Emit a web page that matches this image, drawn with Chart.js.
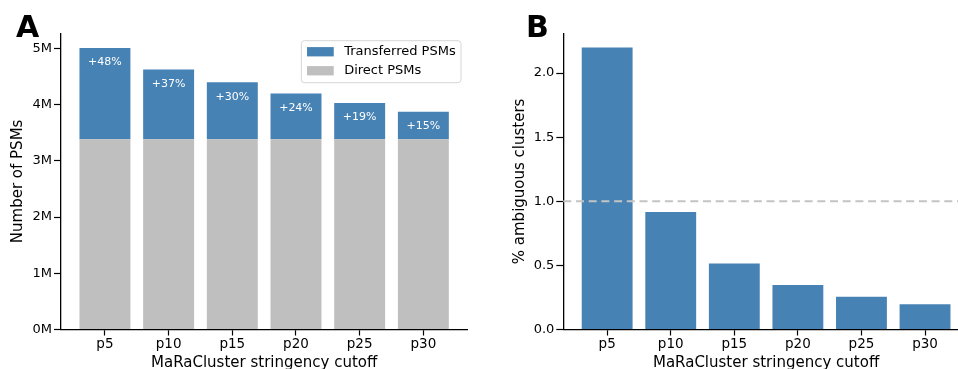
<!DOCTYPE html>
<html>
<head>
<meta charset="utf-8">
<script src="https://cdn.jsdelivr.net/npm/chart.js@4"></script>
<style>
  html, body { margin: 0; padding: 0; background: #fff; width: 958px; height: 369px; overflow: hidden; }
  .panel { position: absolute; top: 0; height: 369px; }
  #panelA { left: 0; width: 480px; }
  #panelB { left: 480px; width: 500px; }
  .letter { position: absolute; font-family: 'DejaVu Sans', sans-serif; font-weight: bold; font-size: 30px; line-height: 30px; color: #000; }
</style>
</head>
<body>
<div class="panel" id="panelA"><canvas id="chartA" width="480" height="369"></canvas></div>
<div class="panel" id="panelB"><canvas id="chartB" width="500" height="369"></canvas></div>
<div class="letter" style="left:16px; top:12px;">A</div>
<div class="letter" style="left:526px; top:12px;">B</div>
<script>
// ===== data =====
const cutoffs = ['p5', 'p10', 'p15', 'p20', 'p25', 'p30'];
// PSM counts, in millions
const directPsmsM = [3.385, 3.385, 3.385, 3.385, 3.385, 3.385];
const totalPsmsM = [5.01, 4.625, 4.40, 4.20, 4.03, 3.875];
const gainLabels = ['+48%', '+37%', '+30%', '+24%', '+19%', '+15%'];
const ambiguousPct = [2.2, 0.917, 0.514, 0.347, 0.256, 0.197];
const ambiguousThreshold = 1.0;

const BLUE = '#4682b4';
const GRAY = '#bfbfbf';
const FONT = "'DejaVu Sans', sans-serif";

Chart.defaults.font.family = FONT;
Chart.defaults.color = '#000';
Chart.defaults.animation = false;

const transferredPsmsM = totalPsmsM.map((t, i) => t - directPsmsM[i]);
const toPoints = arr => arr.map((v, i) => ({ x: i, y: v }));

// matplotlib-like x limits around bars of width 0.8
const X_MIN = -0.69;
const X_MAX = cutoffs.length - 1 + 0.69;

function xAxis() {
  return {
    type: 'linear',
    min: X_MIN,
    max: X_MAX,
    offset: false,
    afterBuildTicks: scale => { scale.ticks = cutoffs.map((c, i) => ({ value: i })); },
    ticks: {
      callback: v => cutoffs[v],
      font: { size: 13.5 },
      color: '#000',
      padding: 1,
      maxRotation: 0,
      autoSkip: false
    },
    grid: { offset: false, drawOnChartArea: false, drawTicks: true, tickLength: 6, tickColor: '#000', tickWidth: 1.2 },
    border: { display: true, color: '#000', width: 1.3 },
    title: {
      display: true,
      text: 'MaRaCluster stringency cutoff',
      font: { size: 15, lineHeight: 0.8 },
      padding: { top: 0, bottom: 0 },
      color: '#000'
    },
    afterFit: s => { s.height = 39.5; }
  };
}

function yAxis(max, step, fmt, title, titlePad, width) {
  return {
    min: 0,
    max: max,
    ticks: {
      stepSize: step,
      includeBounds: false,
      callback: fmt,
      font: { size: 13 },
      color: '#000',
      padding: 2
    },
    grid: { drawOnChartArea: false, drawTicks: true, tickLength: 7, tickColor: '#000', tickWidth: 1.2 },
    border: { display: true, color: '#000', width: 1.3 },
    title: {
      display: true,
      text: title,
      font: { size: 15 },
      padding: { top: titlePad, bottom: 0 },
      color: '#000'
    },
    afterFit: s => { s.width = width; }
  };
}

// ===== plugins =====
const gainLabelPlugin = {
  id: 'gainLabels',
  afterDatasetsDraw(chart) {
    const { ctx } = chart;
    const meta = chart.getDatasetMeta(1);
    ctx.save();
    ctx.fillStyle = '#fff';
    ctx.font = '11px ' + FONT;
    ctx.textAlign = 'center';
    ctx.textBaseline = 'middle';
    meta.data.forEach((bar, i) => {
      ctx.fillText(gainLabels[i], bar.x, bar.y + 14.5);
    });
    ctx.restore();
  }
};

const boxLegendPlugin = {
  id: 'boxLegend',
  afterDraw(chart) {
    const { ctx, chartArea } = chart;
    const items = chart.data.datasets.slice().reverse();
    ctx.save();
    ctx.font = '13px ' + FONT;
    const textW = Math.max(...items.map(d => ctx.measureText(d.label).width));
    const padL = 5.7, swW = 26.7, gap = 10.4, padR = 5.3;
    const boxW = padL + swW + gap + textW + padR;
    const boxH = 42;
    const x0 = chartArea.right - 6.3 - boxW;
    const y0 = chartArea.top + 7.4;
    ctx.fillStyle = 'rgba(255,255,255,0.8)';
    ctx.strokeStyle = '#d6d6d6';
    ctx.lineWidth = 1;
    ctx.beginPath();
    ctx.roundRect(x0, y0, boxW, boxH, 3);
    ctx.fill();
    ctx.stroke();
    ctx.textBaseline = 'middle';
    ctx.textAlign = 'left';
    items.forEach((d, i) => {
      const cy = y0 + 11 + i * 19;
      ctx.fillStyle = d.backgroundColor;
      ctx.fillRect(x0 + padL, cy - 4.6, swW, 9.3);
      ctx.fillStyle = '#000';
      ctx.fillText(d.label, x0 + padL + swW + gap, cy);
    });
    ctx.restore();
  }
};

const thresholdPlugin = {
  id: 'thresholdLine',
  afterDatasetsDraw(chart) {
    const { ctx, chartArea, scales } = chart;
    const y = scales.y.getPixelForValue(ambiguousThreshold);
    ctx.save();
    ctx.strokeStyle = '#c4c4c4';
    ctx.lineWidth = 2;
    ctx.setLineDash([8, 4.7]);
    ctx.beginPath();
    ctx.moveTo(chartArea.left, y);
    ctx.lineTo(chartArea.right, y);
    ctx.stroke();
    ctx.restore();
  }
};

// ===== panel A =====
new Chart(document.getElementById('chartA'), {
  type: 'bar',
  data: {
    datasets: [
      { label: 'Direct PSMs', data: toPoints(directPsmsM), backgroundColor: GRAY },
      { label: 'Transferred PSMs', data: toPoints(transferredPsmsM), backgroundColor: BLUE }
    ]
  },
  options: {
    responsive: false,
    layout: { padding: { top: 33.3, right: 12.7, bottom: 0, left: 0 } },
    datasets: { bar: { categoryPercentage: 1, barPercentage: 0.8, borderWidth: 0 } },
    plugins: { legend: { display: false }, tooltip: { enabled: false } },
    scales: {
      x: Object.assign(xAxis(), { stacked: true }),
      y: Object.assign(yAxis(5.27, 1, v => v + 'M', 'Number of PSMs', 9.3, 61), { stacked: true })
    }
  },
  plugins: [gainLabelPlugin, boxLegendPlugin]
});

// ===== panel B =====
new Chart(document.getElementById('chartB'), {
  type: 'bar',
  data: {
    datasets: [
      { label: '% ambiguous clusters', data: toPoints(ambiguousPct), backgroundColor: BLUE }
    ]
  },
  options: {
    responsive: false,
    layout: { padding: { top: 33.3, right: 11.1, bottom: 0, left: 0 } },
    datasets: { bar: { categoryPercentage: 1, barPercentage: 0.8, borderWidth: 0 } },
    plugins: { legend: { display: false }, tooltip: { enabled: false } },
    scales: {
      x: xAxis(),
      y: yAxis(2.31, 0.5, v => v.toFixed(1), '% ambiguous clusters', 31, 83.3)
    }
  },
  plugins: [thresholdPlugin]
});
</script>
</body>
</html>
